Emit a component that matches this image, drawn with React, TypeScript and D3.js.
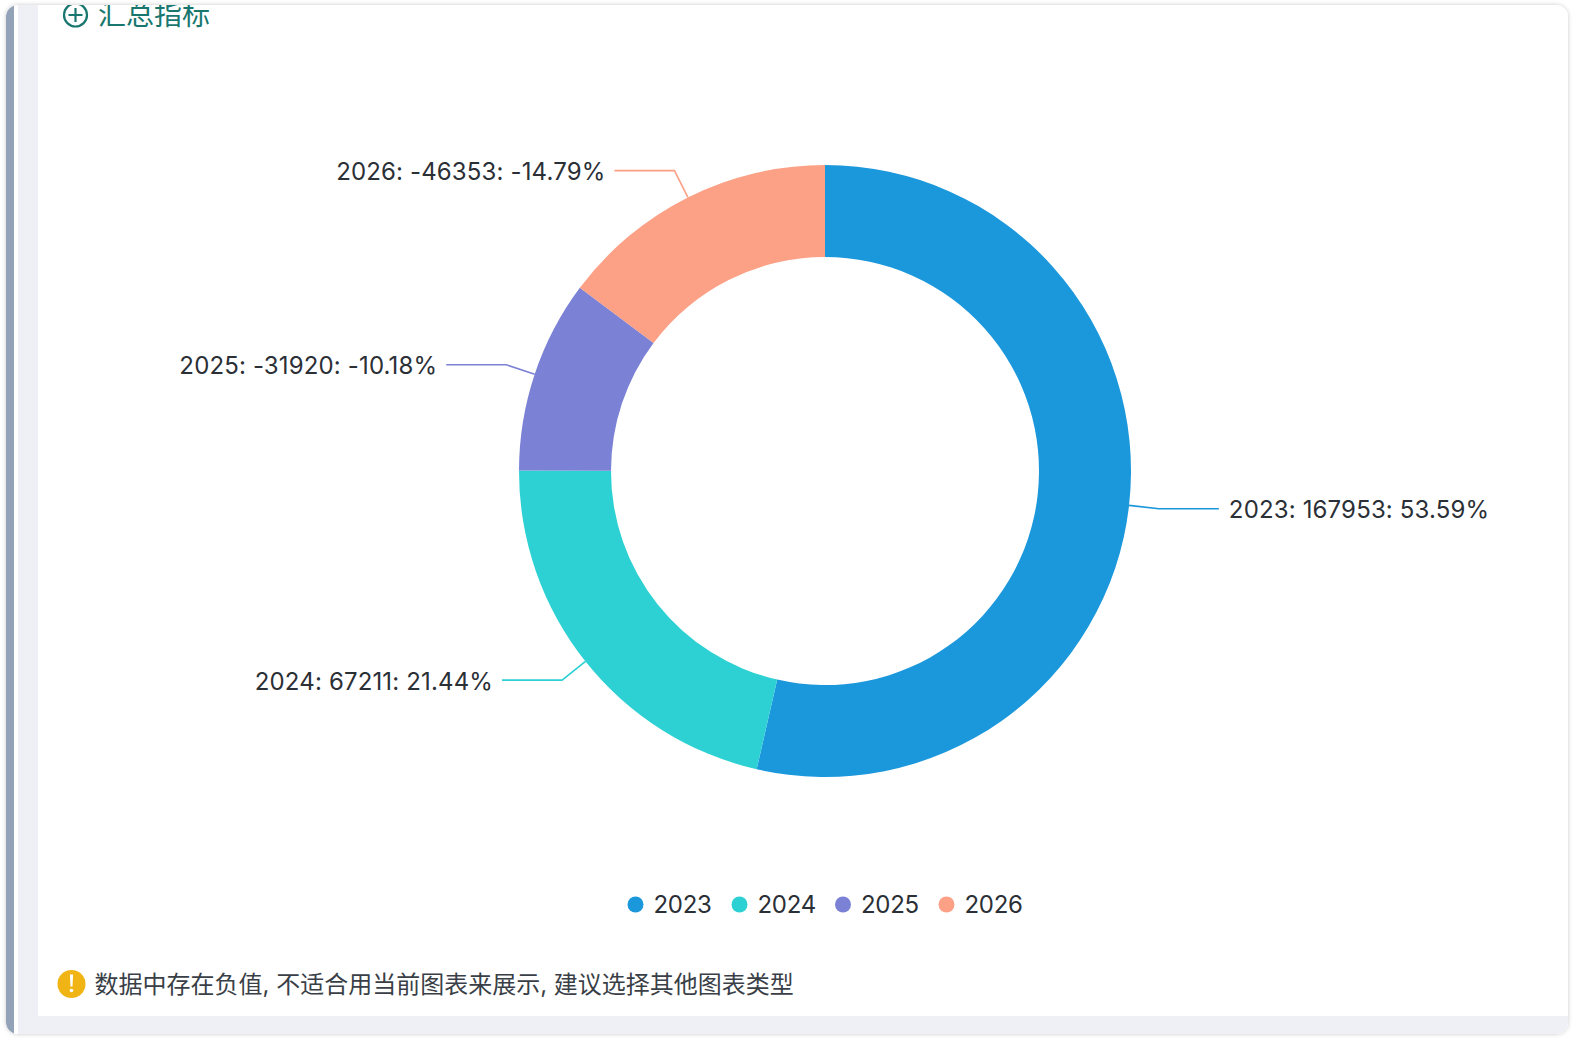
import React from "react";
import * as d3 from "d3";

const categories = ["2023", "2024", "2025", "2026"];
const signedValues = [167953, 67211, -31920, -46353];
const magnitudes = [167953, 67211, 31920, 46353];
const percentLabels = ["53.59%", "21.44%", "-10.18%", "-14.79%"];
const colors = ["#1b97dc", "#2dd1d4", "#7b81d4", "#fca086"];
const headerText = "汇总指标";
const warningText = "数据中存在负值, 不适合用当前图表来展示, 建议选择其他图表类型";

const W = 1574, H = 1040;
const cx = 825, cy = 471, outerR = 306, innerR = 214, elbowR = 336;
const LATIN = "Inter, 'Noto Sans CJK SC', sans-serif";
const CJK = "'Noto Sans CJK SC', sans-serif";
const legendX = [635.5, 739.5, 843, 946.5];

export default function App() {
  const pie = d3.pie<number>().sort(null).value((d) => d);
  const arcs = pie(magnitudes);
  const arc = d3.arc<d3.PieArcDatum<number>>().innerRadius(innerR).outerRadius(outerR);
  const line = d3.line();
  const polar = (a: number, r: number): [number, number] => [cx + r * Math.sin(a), cy - r * Math.cos(a)];
  return (
    <svg width={W} height={H} viewBox={`0 0 ${W} ${H}`} style={{ position: "absolute", left: 0, top: 0, background: "#fff" }}>
      <defs>
        <filter id="sh" x="-2%" y="-2%" width="104%" height="104%">
          <feDropShadow dx="0" dy="0" stdDeviation="2.2" floodColor="#000" floodOpacity="0.22" />
        </filter>
        <clipPath id="card"><rect x={6} y={5} width={1562} height={1029} rx={12} /></clipPath>
      </defs>
      <rect x={6} y={5} width={1562} height={1029} rx={12} fill="#fff" filter="url(#sh)" />
      <g clipPath="url(#card)">
        <rect x={6} y={5} width={8} height={1029} fill="#92a3b8" />
        <rect x={18} y={5} width={20} height={1029} fill="#eef0f6" />
        <rect x={18} y={1016} width={1550} height={18} fill="#eef0f6" />
        <g stroke="#19776f" strokeWidth={2.2} fill="none">
          <circle cx={75.5} cy={15} r={11.5} />
          <path d={`M68.5 15H82.5M75.5 8V22`} />
        </g>
        <text x={98} y={25} fontFamily={CJK} fontSize={28} fill="#19776f">{headerText}</text>
      </g>
      <g transform={`translate(${cx},${cy})`}>
        {arcs.map((a, i) => <path key={i} d={arc(a) || ""} fill={colors[i]} />)}
      </g>
      {arcs.map((a, i) => {
        const mid = (a.startAngle + a.endAngle) / 2;
        const p0 = polar(mid, outerR);
        const p1 = polar(mid, elbowR);
        const right = Math.sin(mid) > 0;
        const p2: [number, number] = [p1[0] + (right ? 60 : -60), p1[1]];
        return (
          <g key={i}>
            <path d={line([p0, p1, p2]) || ""} fill="none" stroke={colors[i]} strokeWidth={1.6} />
            <text x={p2[0] + (right ? 10 : -9)} y={p2[1] + 1} dy="0.35em" textAnchor={right ? "start" : "end"}
              fontFamily={LATIN} fontSize={24} letterSpacing={0.15} fill="#2b2f36">
              {`${categories[i]}: ${signedValues[i]}: ${percentLabels[i]}`}
            </text>
          </g>
        );
      })}
      {categories.map((c, i) => (
        <g key={c}>
          <circle cx={legendX[i]} cy={904.5} r={8} fill={colors[i]} />
          <text x={legendX[i] + 18} y={904.5} dy="0.35em" fontFamily={LATIN} fontSize={24} letterSpacing={-0.3} fill="#2b2f36">{c}</text>
        </g>
      ))}
      <circle cx={71.5} cy={984} r={14} fill="#f0b514" />
      <path d="M69.9 974.5h3.2l-.6 12h-2z" fill="#fff" />
      <circle cx={71.5} cy={990.5} r={1.8} fill="#fff" />
      <text x={94.5} y={992.5} fontFamily={LATIN} fontSize={24} fill="#3a3f47">{warningText}</text>
    </svg>
  );
}
